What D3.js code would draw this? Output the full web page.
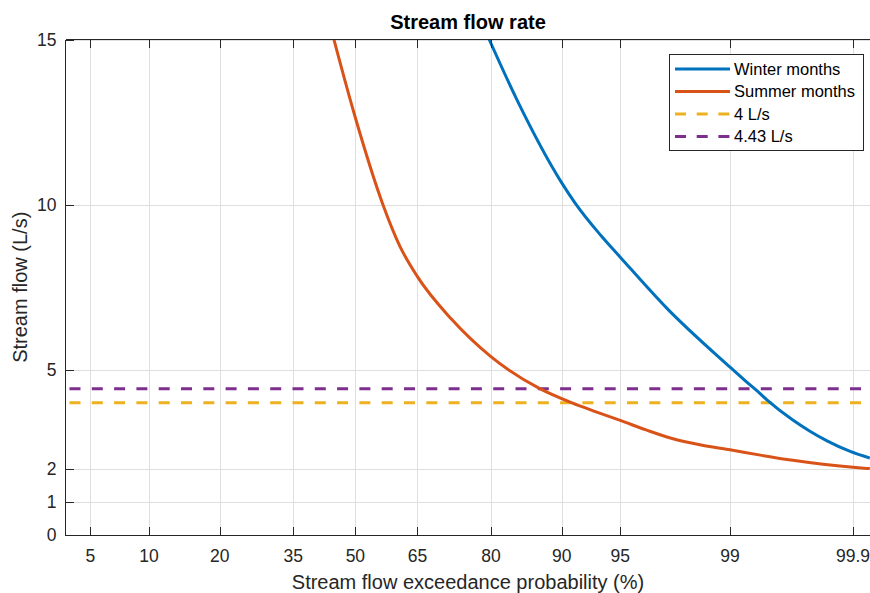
<!DOCTYPE html>
<html>
<head>
<meta charset="utf-8">
<script src="https://cdn.jsdelivr.net/npm/d3@7"></script>
<style>
  body { margin: 0; background: #fff; }
  svg { display: block; font-family: "Liberation Sans", Arial, sans-serif; }
</style>
</head>
<body>
<svg id="chart" width="870" height="593"></svg>
<script>
// Data
const xTicks = [5, 10, 20, 35, 50, 65, 80, 90, 95, 99, 99.9];
const yTicks = [0, 1, 2, 5, 10, 15];
const xLimits = [3.593, 99.931];
const yLimits = [0, 15];

const winterP = [79.7, 84.2, 90.0, 91.4, 93.6, 95.0, 97.35, 99.0, 99.22, 99.37, 99.47, 99.67, 99.76, 99.83, 99.894, 99.93];
const winterFlow = [15.0, 13.18, 10.66, 10.04, 9.08, 8.41, 6.86, 5.08, 4.68, 4.36, 4.09, 3.48, 3.15, 2.85, 2.53, 2.33];

const summerP = [44.7, 50.0, 56.8, 60.9, 65.0, 72.5, 80.0, 87.4, 91.07, 93.25, 95.0, 96.45, 97.54, 98.38, 99.0, 99.42, 99.67, 99.816, 99.9, 99.93];
const summerFlow = [15.0, 12.63, 10.0, 8.74, 7.82, 6.53, 5.40, 4.43, 4.0, 3.73, 3.47, 3.18, 2.92, 2.73, 2.58, 2.41, 2.26, 2.14, 2.05, 2.01];

const thresholds = [4, 4.43];

const legendLabels = ["Winter months", "Summer months", "4 L/s", "4.43 L/s"];
const colors = ["#0072BD", "#D95319", "#EDB120", "#7E2F8E"];

//==========================================
// Normal probability axis helper
//==========================================

// Inverse of the standard normal CDF (Acklam's approximation)
function probit(p) {
  const a = [-39.69683028665376, 220.9460984245205, -275.9285104469687, 138.3577518672690, -30.66479806614716, 2.506628277459239];
  const b = [-54.47609879822406, 161.5858368580409, -155.6989798598866, 66.80131188771972, -13.28068155288572];
  const c = [-0.007784894002430293, -0.3223964580411365, -2.400758277161838, -2.549732539343734, 4.374664141464968, 2.938163982698783];
  const d = [0.007784695709041462, 0.3224671290700398, 2.445134137142996, 3.754408661907416];
  const pLow = 0.02425;
  let q, r;
  if (p < pLow) {
    q = Math.sqrt(-2 * Math.log(p));
    return (((((c[0] * q + c[1]) * q + c[2]) * q + c[3]) * q + c[4]) * q + c[5]) /
      ((((d[0] * q + d[1]) * q + d[2]) * q + d[3]) * q + 1);
  }
  if (p > 1 - pLow) {
    q = Math.sqrt(-2 * Math.log(1 - p));
    return -(((((c[0] * q + c[1]) * q + c[2]) * q + c[3]) * q + c[4]) * q + c[5]) /
      ((((d[0] * q + d[1]) * q + d[2]) * q + d[3]) * q + 1);
  }
  q = p - 0.5;
  r = q * q;
  return (((((a[0] * r + a[1]) * r + a[2]) * r + a[3]) * r + a[4]) * r + a[5]) * q /
    (((((b[0] * r + b[1]) * r + b[2]) * r + b[3]) * r + b[4]) * r + 1);
}

//==========================================
// Layout and scales
//==========================================

const plot = { left: 65.5, right: 870.5, top: 39.5, bottom: 535 };
const axisColor = "#262626";
const gridColor = "#dfdfdf";
const tickLen = 8;

const zScale = d3.scaleLinear()
  .domain(xLimits.map(p => probit(p / 100)))
  .range([plot.left, plot.right]);
const x = p => zScale(probit(p / 100));

const y = d3.scaleLinear()
  .domain(yLimits)
  .range([plot.bottom, plot.top]);

const svg = d3.select("#chart");

svg.append("defs").append("clipPath")
  .attr("id", "plot-clip")
  .append("rect")
  .attr("x", plot.left)
  .attr("y", plot.top)
  .attr("width", plot.right - plot.left)
  .attr("height", plot.bottom - plot.top);

// Grid lines
const grid = svg.append("g").attr("shape-rendering", "crispEdges");
grid.selectAll(".vgrid")
  .data(xTicks)
  .enter().append("line")
  .attr("x1", d => Math.round(x(d)) + 0.5)
  .attr("x2", d => Math.round(x(d)) + 0.5)
  .attr("y1", plot.top)
  .attr("y2", plot.bottom)
  .style("stroke", gridColor);
grid.selectAll(".hgrid")
  .data(yTicks)
  .enter().append("line")
  .attr("x1", plot.left)
  .attr("x2", plot.right)
  .attr("y1", d => Math.round(y(d)) + 0.5)
  .attr("y2", d => Math.round(y(d)) + 0.5)
  .style("stroke", gridColor);

//==========================================
// Series
//==========================================

const lines = svg.append("g").attr("clip-path", "url(#plot-clip)");

const lineGen = d3.line()
  .x(d => x(d[0]))
  .y(d => y(d[1]))
  .curve(d3.curveMonotoneX);

// Threshold lines (dashed)
thresholds.forEach((t, i) => {
  lines.append("line")
    .attr("x1", plot.left)
    .attr("x2", plot.right)
    .attr("y1", y(t))
    .attr("y2", y(t))
    .style("stroke", colors[2 + i])
    .style("stroke-width", 3)
    .style("stroke-dasharray", "11,11.3")
    .style("stroke-dashoffset", 18.3);
});

lines.append("path")
  .attr("d", lineGen(d3.zip(winterP, winterFlow)))
  .style("fill", "none")
  .style("stroke", colors[0])
  .style("stroke-width", 3);

lines.append("path")
  .attr("d", lineGen(d3.zip(summerP, summerFlow)))
  .style("fill", "none")
  .style("stroke", colors[1])
  .style("stroke-width", 3);

//==========================================
// Axes
//==========================================

const axes = svg.append("g")
  .attr("shape-rendering", "crispEdges")
  .style("stroke", axisColor)
  .style("stroke-width", 1);

axes.append("line")
  .attr("x1", plot.left).attr("x2", plot.left)
  .attr("y1", plot.top).attr("y2", plot.bottom + 0.5);
axes.append("line")
  .attr("x1", plot.left).attr("x2", plot.right)
  .attr("y1", plot.top).attr("y2", plot.top);
axes.append("line")
  .attr("x1", plot.left).attr("x2", plot.right)
  .attr("y1", plot.bottom + 0.5).attr("y2", plot.bottom + 0.5);

// Inward ticks, bottom and top
xTicks.forEach(t => {
  const px = Math.round(x(t)) + 0.5;
  axes.append("line")
    .attr("x1", px).attr("x2", px)
    .attr("y1", plot.bottom).attr("y2", plot.bottom - tickLen);
  axes.append("line")
    .attr("x1", px).attr("x2", px)
    .attr("y1", plot.top).attr("y2", plot.top + tickLen);
});
yTicks.forEach(t => {
  const py = Math.round(y(t)) + 0.5;
  axes.append("line")
    .attr("x1", plot.left).attr("x2", plot.left + tickLen)
    .attr("y1", py).attr("y2", py);
});

svg.append("g").selectAll("text")
  .data(xTicks)
  .enter().append("text")
  .attr("x", d => x(d))
  .attr("y", 561.5)
  .attr("text-anchor", "middle")
  .style("font-size", "17.5px")
  .style("fill", axisColor)
  .text(d => d);

svg.append("g").selectAll("text")
  .data(yTicks)
  .enter().append("text")
  .attr("x", 56.5)
  .attr("y", d => y(d))
  .attr("dy", "0.35em")
  .attr("text-anchor", "end")
  .style("font-size", "17.5px")
  .style("fill", axisColor)
  .text(d => d);

// Titles
svg.append("text")
  .attr("x", (plot.left + plot.right) / 2)
  .attr("y", 29)
  .attr("text-anchor", "middle")
  .style("font-size", "20px")
  .style("font-weight", "bold")
  .style("fill", "#000")
  .text("Stream flow rate");

svg.append("text")
  .attr("x", (plot.left + plot.right) / 2)
  .attr("y", 589)
  .attr("text-anchor", "middle")
  .style("font-size", "20px")
  .style("fill", axisColor)
  .text("Stream flow exceedance probability (%)");

svg.append("text")
  .attr("transform", `translate(26.5,${(plot.top + plot.bottom) / 2}) rotate(-90)`)
  .attr("text-anchor", "middle")
  .style("font-size", "20px")
  .style("fill", axisColor)
  .text("Stream flow (L/s)");

//==========================================
// Legend
//==========================================

const legend = svg.append("g");
legend.append("rect")
  .attr("x", 669.5).attr("y", 54.5)
  .attr("width", 194).attr("height", 96)
  .attr("shape-rendering", "crispEdges")
  .style("fill", "#fff")
  .style("stroke", axisColor);

const legendRows = [69, 91.5, 114, 136.5];
legendLabels.forEach((label, i) => {
  legend.append("line")
    .attr("x1", 675).attr("x2", 730)
    .attr("y1", legendRows[i]).attr("y2", legendRows[i])
    .style("stroke", colors[i])
    .style("stroke-width", 3)
    .style("stroke-dasharray", i >= 2 ? "11,10.7" : null);
  legend.append("text")
    .attr("x", 734)
    .attr("y", legendRows[i])
    .attr("dy", "0.35em")
    .style("font-size", "16.5px")
    .style("fill", "#000")
    .text(label);
});
</script>
</body>
</html>
